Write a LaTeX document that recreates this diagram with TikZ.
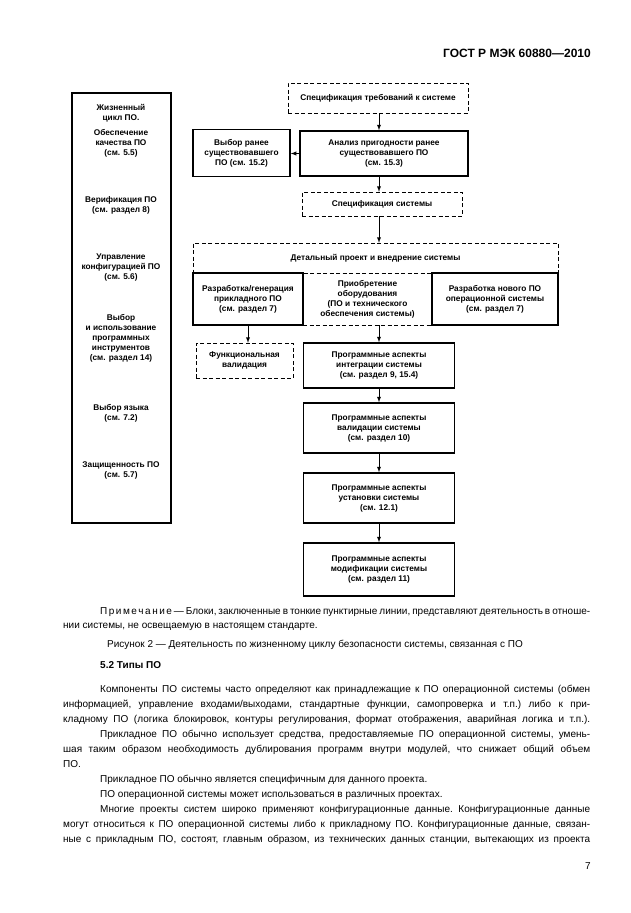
\documentclass[tikz,border=0pt]{standalone}
\usepackage{fontspec}
\setmainfont{Liberation Sans}
\usetikzlibrary{positioning}

\newcommand\blkfont{\fontsize{8.3}{10}\selectfont\bfseries}
\newcommand\txtfont{\fontsize{10}{15}\selectfont\frenchspacing}

\begin{document}
\begin{tikzpicture}[
    x = 1pt, y = -1pt,
    > = latex,
    % boxes of the life cycle
    solidblk/.style = {draw, line width = 1.5pt, align = center, inner sep = 1pt, font = \blkfont},
    dashblk/.style = {draw, thin, dash pattern = on 4pt off 2.5pt, align = center,
      inner sep = 1pt, font = \blkfont},
    lbl/.style = {align = center, inner sep = 0pt, font = \blkfont},
    link/.style = {draw, ->, line width = 0.9pt},
    % lines of the page text
    pline/.style = {anchor = base west, inner sep = 0pt, font = \txtfont},
    ]

    \useasboundingbox (0, 0) rectangle (630, 913);

    % page header
    \node[anchor = base east, inner sep = 0pt, font = \fontsize{12}{14}\selectfont\bfseries]
      (gost) at (591, 57) {ГОСТ Р МЭК 60880—2010};

    % left column: the software life cycle
    \node[draw, line width = 1.5pt, minimum width = 99, minimum height = 430, inner sep = 0pt]
      (life) at (121.5, 308) {};
    \node[lbl] (l0) at (121, 113) {Жизненный\\цикл ПО.};
    \node[lbl] (l1) at (121, 143) {Обеспечение\\качества ПО\\(см. 5.5)};
    \node[lbl] (l2) at (121, 205) {Верификация ПО\\(см. раздел 8)};
    \node[lbl] (l3) at (121, 268) {Управление\\конфигурацией ПО\\(см. 5.6)};
    \node[lbl] (l4) at (121, 338) {Выбор\\и использование\\программных\\инструментов\\(см. раздел 14)};
    \node[lbl] (l5) at (121, 413) {Выбор языка\\(см. 7.2)};
    \node[lbl] (l6) at (121, 470) {Защищенность ПО\\(см. 5.7)};

    % main flow
    \coordinate (axis) at (379, 0);
    \node[dashblk, minimum width = 180, minimum height = 30] (req) at (378, 98)
      {Спецификация требований к системе};
    \node[solidblk, minimum width = 168, minimum height = 45] (anal) at (384, 153.5)
      {Анализ пригодности ранее\\существовавшего ПО\\(см. 15.3)};
    \node[solidblk, minimum width = 97, minimum height = 47] (prev) at (241.5, 153)
      {Выбор ранее\\существовавшего\\ПО (см. 15.2)};
    \node[dashblk, minimum width = 160, minimum height = 24] (sysspec) at (382, 204)
      {Спецификация системы};

    % detailed design, split in three
    \node[dashblk, minimum width = 365, minimum height = 30] (detail) at (375.5, 258)
      {Детальный проект и внедрение системы};
    \node[dashblk, minimum width = 129, minimum height = 52] (purch) at (367.5, 299)
      {Приобретение\\оборудования\\(ПО и технического\\обеспечения системы)};
    \node[solidblk, minimum width = 110, minimum height = 52] (appl) at (248, 299)
      {Разработка/генерация\\прикладного ПО\\(см. раздел 7)};
    \node[solidblk, minimum width = 126, minimum height = 52] (newos) at (495, 299)
      {Разработка нового ПО\\операционной системы\\(см. раздел 7)};

    \node[dashblk, minimum width = 97, minimum height = 35] (funcval) at (244.5, 360.5)
      {Функциональная\\валидация};
    \node[solidblk, minimum width = 151, minimum height = 45] (integ) at (379, 365.5)
      {Программные аспекты\\интеграции системы\\(см. раздел 9, 15.4)};
    \node[solidblk, minimum width = 151, minimum height = 50] (valid) at (379, 428)
      {Программные аспекты\\валидации системы\\(см. раздел 10)};
    \node[solidblk, minimum width = 151, minimum height = 50] (install) at (379, 498)
      {Программные аспекты\\установки системы\\(см. 12.1)};
    \node[solidblk, minimum width = 151, minimum height = 53] (modif) at (379, 569.5)
      {Программные аспекты\\модификации системы\\(см. раздел 11)};

    % arrows
    \draw[link] (req.south -| axis) -- (anal.north -| axis);
    \draw[link] (anal.west) -- (prev.east |- anal.west);
    \draw[link] (anal.south -| axis) -- (sysspec.north -| axis);
    \draw[link] (sysspec.south -| axis) -- (detail.north -| axis);
    \draw[link] (appl.south) -- (appl.south |- funcval.north);
    \draw[link] (purch.south -| axis) -- (integ.north);
    \draw[link] (integ) -- (valid);
    \draw[link] (valid) -- (install);
    \draw[link] (install) -- (modif);

    % note and caption
    \node[pline] (note1) at (100, 614) {\makebox[490pt][s]{П\kern1.5ptр\kern1.5ptи\kern1.5ptм\kern1.5ptе\kern1.5ptч\kern1.5ptа\kern1.5ptн\kern1.5ptи\kern1.5ptе — Блоки, заключенные в тонкие пунктирные линии, представляют деятельность в отноше-}};
    \node[pline] (note2) at (63, 628) {нии системы, не освещаемую в настоящем стандарте.};
    \node[anchor = base, inner sep = 0pt, font = \txtfont] (cap) at (315, 647)
      {Рисунок 2 — Деятельность по жизненному циклу безопасности системы, связанная с ПО};

    % section 5.2
    \node[pline, font = \txtfont\bfseries] (sec) at (100, 668) {5.2 Типы ПО};
    \node[pline] (p1) at (100, 692) {\makebox[490pt][s]{Компоненты ПО системы часто определяют как принадлежащие к ПО операционной системы (обмен}};
    \node[pline] (p2) at (63, 707) {\makebox[527pt][s]{информацией, управление входами/выходами, стандартные функции, самопроверка и т.п.) либо к при-}};
    \node[pline] (p3) at (63, 722) {\makebox[527pt][s]{кладному ПО (логика блокировок, контуры регулирования, формат отображения, аварийная логика и т.п.).}};
    \node[pline] (p4) at (100, 737) {\makebox[490pt][s]{Прикладное ПО обычно использует средства, предоставляемые ПО операционной системы, умень-}};
    \node[pline] (p5) at (63, 752) {\makebox[527pt][s]{шая таким образом необходимость дублирования программ внутри модулей, что снижает общий объем}};
    \node[pline] (p6) at (63, 767) {ПО.};
    \node[pline] (p7) at (100, 782) {Прикладное ПО обычно является специфичным для данного проекта.};
    \node[pline] (p8) at (100, 797) {ПО операционной системы может использоваться в различных проектах.};
    \node[pline] (p9) at (100, 812) {\makebox[490pt][s]{Многие проекты систем широко применяют конфигурационные данные. Конфигурационные данные}};
    \node[pline] (p10) at (63, 827) {\makebox[527pt][s]{могут относиться к ПО операционной системы либо к прикладному ПО. Конфигурационные данные, связан-}};
    \node[pline] (p11) at (63, 842) {\makebox[527pt][s]{ные с прикладным ПО, состоят, главным образом, из технических данных станции, вытекающих из проекта}};

    % page number
    \node[anchor = base east, inner sep = 0pt, font = \txtfont] (pageno) at (591, 869) {7};

\end{tikzpicture}
\end{document}
